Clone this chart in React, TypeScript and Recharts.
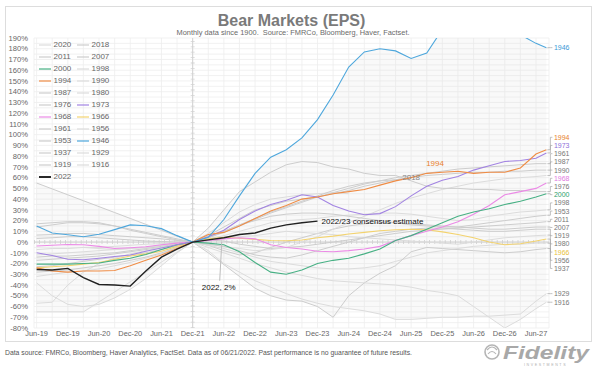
import React from 'react';
import {
  ComposedChart,
  Line,
  Area,
  XAxis,
  YAxis,
  CartesianGrid,
  ReferenceLine,
  ReferenceDot,
} from 'recharts';

const FONT = '"Liberation Sans", Arial, Helvetica, sans-serif';

// months relative to Dec-21 (0)
const months = [-30, -27, -24, -21, -18, -15, -12, -9, -6, -3, 0, 3, 6, 9, 12, 15, 18, 21, 24, 27, 30, 33, 36, 39, 42, 45, 48, 51, 54, 57, 60, 63, 66, 68];
const gridMonths = [-30, -27, -24, -21, -18, -15, -12, -9, -6, -3, 0, 3, 6, 9, 12, 15, 18, 21, 24, 27, 30, 33, 36, 39, 42, 45, 48, 51, 54, 57, 60, 63, 66];
const labeledMonths = [-30, -24, -18, -12, -6, 0, 6, 12, 18, 24, 30, 36, 42, 48, 54, 60, 66];
const monthLabels = ['Jun-19', 'Dec-19', 'Jun-20', 'Dec-20', 'Jun-21', 'Dec-21', 'Jun-22', 'Dec-22', 'Jun-23', 'Dec-23', 'Jun-24', 'Dec-24', 'Jun-25', 'Dec-25', 'Jun-26', 'Dec-26', 'Jun-27'];
const pctTicks = [-80, -75, -70, -65, -60, -55, -50, -45, -40, -35, -30, -25, -20, -15, -10, -5, 0, 5, 10, 15, 20, 25, 30, 35, 40, 45, 50, 55, 60, 65, 70, 75, 80, 85, 90, 95, 100, 105, 110, 115, 120, 125, 130, 135, 140, 145, 150, 155, 160, 165, 170, 175, 180, 185, 190];

const N = null;
const v1946 = [15, 8.5, 6.8, 5, 7.3, 11.6, 16, 15.2, 12.5, 6, 0, 4.5, 21, 43, 64, 79, 86, 97, 114, 137, 163, 177, 180, 178, 171, 176, 198, 215, 225, 222, 210, 193, 185, 181];
const v1973 = [-10, -12.5, -16, -16.5, -15, -13.5, -12, -8.5, -5.5, -2.5, 0, 5, 11, 21, 29, 35, 39, 44, 42, 34, 29, 25.5, 26.5, 33, 43, 52, 57.5, 61, 67, 71, 75, 76, 78, 83];
const v1994 = [-24, -27, -28, -27, -27, -26.5, -22, -17, -12, -6, 0, 7, 9, 15, 22, 29, 34, 40, 42, 45, 47, 49, 53, 57, 60, 64, 65, 66, 64, 65, 65, 69, 82, 86];
const v2000 = [-20.5, -20.5, -20.5, -20, -19.5, -17, -15, -11.5, -7, -2.5, 0, -1, -2.5, -9, -19, -28, -30, -26, -20, -17, -15, -11, -6.5, 1.5, 6, 12, 18, 24, 28, 31, 35, 38, 42, 45];
const v1968 = [-3.7, -3, -2.3, -2.5, -4, -6, -5.3, -4.4, -2.5, -1, 0, 1.5, 3, 4, 3, -2.5, -5, -6.5, -8.5, -9, -8, -6.5, -4, 1.5, 6, 10, 14, 19, 26, 34, 44, 47, 50, 55];
const v1966 = [-24, -23, -22, -20.5, -19, -16, -13, -11, -8.5, -4, 0, 3, 4.5, 3.5, 2.5, 1.5, 1.2, 2, 4, 5.5, 7.5, 9, 10.5, 11.5, 12, 11.5, 9.5, 7, 4, 0, -2.5, -1.5, 1, 2.8];
const v2022 = [-25.5, -26, -24.5, -33, -39.5, -40, -41, -27, -14, -6.5, 0, 2, 4, 7, 8.5, 13, 16, 18, 19.5, N, N, N, N, N, N, N, N, N, N, N, N, N, N, N];
const v1961 = [6.5, 7, 8, 8, 7, 6, 5, 4, 3, 1.5, 0, 4, 9, 15, 21, 27, 32, 37, 42, 46, 50, 54, 57, 60, 62, 64, 66, 68, 69, 70, 71, 72, 73, 73];
const v1987 = [17, 18, 19, 19, 18, 15, 11, 8, 5, 2, 0, 6, 14, 22, 30, 34, 38, 40, 42, 45, 48, 52, 55, 58, 60, 62, 63, 64, 65, 65, 66, 66, 67, 67];
const v1976 = [3.4, 4, 5, 5, 4, 3, 2, 1, 0.5, 0, 0, 13, 30, 47, 56, 65, 72, 75, 74, 70, 68, 64, 62, 62, 57, 52, 50, 50, 49, 49, 48, 48, 47, 47];
const v2018 = [14, 16, 18, 18, 17, 15, 12, 9, 6, 3, 0, 5, 10, 16, 22, 28, 33, 38, 43, 48, 52, 55, 57, 58, 60, N, N, N, N, N, N, N, N, N];
const v2020 = [N, N, N, -5, -6, -7, -6, -5, -3, -1, 0, 8, 18, 28, 35, 40, 42, 44, 45, 46, 45, N, N, N, N, N, N, N, N, N, N, N, N, N];
const v1990 = [-7, -6, -6, -5, -5, -4, -3, -2, -1.5, -0.5, 0, -2, -4, -6, -8, -7, -5, 0, 5, 12, 18, 24, 30, 36, 41, 45, 49, 52, 55, 57, 59, 60, 61, 62];
const v1998 = [-12, -11, -10, -9, -8, -7, -6, -5, -3, -1.5, 0, 3, 6, 10, 14, 18, 20, 21, 22, 24, 25, 26, 27, 27, 26, 24, 22, 20, 21, 24, 26, 28, 29, 30];
const v1953 = [-14, -13, -13, -12, -11, -10, -8, -6, -4, -2, 0, 4, 10, 16, 20, 24, 26, 27, 27, 26, 24, 22, 20, 18, 16, 15, 14, 14, 16, 18, 20, 22, 24, 25];
const v2011 = [-17, -16, -15, -14, -13, -11, -9, -7, -5, -2.5, 0, 2, 1, -2, -4, -6, -5, -4, -2, 0, 2, 4, 6, 8, 10, 11, 12, 13, 14, 15, 16, 17, 18, 19];
const v2007 = [-23, -22, -20, -18, -16, -14, -12, -10, -7, -3.5, 0, -3, -8, -12, -10, -5, 0, 4, 8, 12, 15, 17, 18, 18, 17, 16, 15, 14, 13, 12, 12, 13, 14, 14];
const v1919 = [-28, -27, -26, -24, -22, -20, -17, -14, -10, -5, 0, -2, -4, -8, -12, -14, -15, -12, -8, -4, 0, 4, 8, 10, 12, 13, 13, 12, 11, 10, 10, 11, 12, 12];
const v1980 = [-32, -30, -28, -27, -25, -22, -19, -15, -11, -5, 0, 2, 4, 5, 6, 8, 10, 9, 8, 7, 5, 4, 3, 2, 1, 0, -1, -2, 0, 2, 4, 5, 6, 6.5];
const v1937 = [55, 49.5, 44, 38.5, 33, 27.5, 22, 16.5, 11, 5.5, 0, -10, -21, -32, -43, -50, -54, -55, -60, -70, -50, -38, -29, -22, -9, -5, -6, -7, -8, -9, -10, -9, -7, -6];
const v1956 = [-38, -50, -58, -60, -58, -52, -44, -34, -22, -10, 0, -3, -6, -10, -14, -18, -20, -22, -24, -25, -25, -24, -22, -18, -14, -10, -8, -6, -4, -3, -2, -2, -1, -1];
const v1929 = [-57, -56, -40, -28, -20, -15, -11, -8, -5, -2.5, 0, -8, -20, -28, -36, -42, -48, -53, -57, -60, -62, -64, -67, -72, -72, -71, -70, -70, -69, -69, -68, -67, -55, -48];
const v1916 = [-65, -65, -65, -65, -55.7, -46.4, -37, -28, -18.6, -9.3, 0, -5, -10, -15, -20, -24, -28, -31, -34, -36, -37, -38, -39, -40, -42, -45, -47, -50, -60, -70, -80, -72, -62, -56];

const GRAY = '#cdcdcd';
const GRAY_L = '#dcdcdc';

type Series = {
  name: string;
  values: (number | null)[];
  color: string;
  labelColor: string;
  width: number;
  end: boolean;
};

// legend order (row-major, two columns)
const SERIES: Series[] = [
  { name: '2020', values: v2020, color: GRAY_L, labelColor: '#777', width: 1, end: false },
  { name: '2018', values: v2018, color: GRAY, labelColor: '#888', width: 1, end: false },
  { name: '2011', values: v2011, color: GRAY, labelColor: '#777', width: 1, end: true },
  { name: '2007', values: v2007, color: GRAY, labelColor: '#777', width: 1, end: true },
  { name: '2000', values: v2000, color: '#47b084', labelColor: '#2f9e6c', width: 1.1, end: true },
  { name: '1998', values: v1998, color: GRAY_L, labelColor: '#777', width: 1, end: true },
  { name: '1994', values: v1994, color: '#ef8c45', labelColor: '#e8812e', width: 1.1, end: true },
  { name: '1990', values: v1990, color: GRAY_L, labelColor: '#777', width: 1, end: true },
  { name: '1987', values: v1987, color: GRAY, labelColor: '#777', width: 1, end: true },
  { name: '1980', values: v1980, color: GRAY_L, labelColor: '#777', width: 1, end: true },
  { name: '1976', values: v1976, color: GRAY, labelColor: '#777', width: 1, end: true },
  { name: '1973', values: v1973, color: '#a283e2', labelColor: '#8e6fd9', width: 1.1, end: true },
  { name: '1968', values: v1968, color: '#eb8ae6', labelColor: '#e07ae0', width: 1.1, end: true },
  { name: '1966', values: v1966, color: '#f3d36f', labelColor: '#e8bf3c', width: 1.1, end: true },
  { name: '1961', values: v1961, color: GRAY, labelColor: '#777', width: 1, end: true },
  { name: '1956', values: v1956, color: GRAY_L, labelColor: '#777', width: 1, end: true },
  { name: '1953', values: v1953, color: GRAY, labelColor: '#777', width: 1, end: true },
  { name: '1946', values: v1946, color: '#4ea7dc', labelColor: '#3a98d6', width: 1.1, end: true },
  { name: '1937', values: v1937, color: GRAY, labelColor: '#777', width: 1, end: true },
  { name: '1929', values: v1929, color: GRAY_L, labelColor: '#777', width: 1, end: true },
  { name: '1919', values: v1919, color: GRAY, labelColor: '#777', width: 1, end: true },
  { name: '1916', values: v1916, color: GRAY_L, labelColor: '#777', width: 1, end: true },
  { name: '2022', values: v2022, color: '#222222', labelColor: '#111', width: 1.4, end: false },
];

const COLORED = ['1966', '1968', '2000', '1973', '1994', '1946', '2022'];
const DRAW_ORDER = [
  ...SERIES.filter((s) => !COLORED.includes(s.name)),
  ...COLORED.map((n) => SERIES.find((s) => s.name === n) as Series),
];

const keyOf = (s: Series) => 's' + s.name;

const rows = months.map((m, i) => {
  const row: Record<string, any> = { m };
  const vals: number[] = [];
  SERIES.forEach((s) => {
    row[keyOf(s)] = s.values[i];
    if (s.values[i] != null) vals.push(s.values[i] as number);
  });
  row.band = [Math.min(...vals), Math.max(...vals)];
  return row;
});

const lastIndex = (s: Series) => {
  for (let i = s.values.length - 1; i >= 0; i--) if (s.values[i] != null) return i;
  return -1;
};

// chart geometry
const CW = 600;
const CH = 345;
const M_TOP = 38;
const X_AXIS_H = 17;
const PLOT_H = CH - M_TOP - X_AXIS_H;
const Y_MIN = -80;
const Y_MAX = 190;
const pctToPx = (v: number) => M_TOP + ((Y_MAX - v) * PLOT_H) / (Y_MAX - Y_MIN);

// de-overlap right-hand labels (balanced relaxation)
const endShift: Record<string, number> = {};
(() => {
  const GAP = 8.2;
  const items = SERIES.filter((s) => s.end)
    .map((s) => ({ name: s.name, y: pctToPx(s.values[lastIndex(s)] as number) }))
    .sort((a, b) => a.y - b.y);
  const pos = items.map((it) => it.y);
  for (let iter = 0; iter < 600; iter++) {
    for (let k = 1; k < pos.length; k++) {
      const d = pos[k] - pos[k - 1];
      if (d < GAP) {
        const push = (GAP - d) / 2;
        pos[k - 1] -= push;
        pos[k] += push;
      }
    }
  }
  items.forEach((it, k) => {
    endShift[it.name] = pos[k] - it.y;
  });
})();

function endLabel(name: string, color: string, shift: number) {
  return (props: any) => {
    const vb = props.viewBox || {};
    const x = vb.x + (vb.width || 0) / 2;
    const y = vb.y + (vb.height || 0) / 2;
    if (!isFinite(x) || !isFinite(y)) return null;
    const ly = y + shift;
    return (
      <g>
        <polyline
          points={`${x + 1},${y} ${x + 4},${y} ${x + 4},${ly} ${x + 6},${ly}`}
          fill="none"
          stroke="#a8a8a8"
          strokeWidth={0.7}
        />
        <text x={x + 7.5} y={ly} dy="0.35em" fontSize={7} fill={color} fontFamily={FONT}>
          {name}
        </text>
      </g>
    );
  };
}

function textLabel(text: string, color: string, anchor: 'start' | 'middle', dx: number) {
  return (props: any) => {
    const vb = props.viewBox || {};
    const x = vb.x + (vb.width || 0) / 2;
    const y = vb.y + (vb.height || 0) / 2;
    if (!isFinite(x) || !isFinite(y)) return null;
    return (
      <text x={x + dx} y={y} dy="0.35em" fontSize={8} fill={color} textAnchor={anchor} fontFamily={FONT}>
        {text}
      </text>
    );
  };
}

// annotation anchors (data coordinates)
const note1994 = { m: 46.6, v: 73.8, text: '1994' };
const note2022 = { m: 5, v: -42, text: '2022, 2%' };
const note2022Leader = [{ x: 5.6, y: 0 }, { x: 5.2, y: -36 }];

const xFmt = (v: number) => {
  const i = labeledMonths.indexOf(v);
  return i >= 0 ? monthLabels[i] : '';
};
const yFmt = (v: number) => (v % 10 === 0 ? `${v}%` : '');

function LegendBox() {
  return (
    <div
      style={{
        position: 'absolute',
        left: 39,
        top: 39,
        display: 'grid',
        gridTemplateColumns: '38px 38px',
        gridAutoRows: '12px',
        fontFamily: FONT,
        fontSize: 8,
        color: '#666',
      }}
    >
      {SERIES.map((s) => (
        <div key={s.name} style={{ display: 'flex', alignItems: 'center', height: 12 }}>
          <svg width={12} height={4} style={{ marginRight: 2.5 }}>
            <line x1={0} y1={2} x2={12} y2={2} stroke={s.name === '2022' ? '#111' : s.color} strokeWidth={s.name === '2022' ? 1.8 : 1.2} />
          </svg>
          <span style={{ lineHeight: '12px' }}>{s.name}</span>
        </div>
      ))}
    </div>
  );
}

export default function App() {
  return (
    <div style={{ position: 'absolute', left: 0, top: 0, width: 600, height: 371, background: '#fff', overflow: 'hidden' }}>
      <svg width={600} height={371} style={{ position: 'absolute', left: 0, top: 0 }}>
        <rect x={5.5} y={6.5} width={586} height={335} fill="none" stroke="#dddddd" />
        <text x={291.5} y={26} textAnchor="middle" fontSize={16} fontWeight="bold" fill="#7a7a7a" fontFamily={FONT}>
          Bear Markets (EPS)
        </text>
        <text
          x={176.5}
          y={35}
          fontSize={8}
          fill="#6a6a6a"
          fontFamily={FONT}
          textLength={233}
          lengthAdjust="spacingAndGlyphs"
          style={{ whiteSpace: 'pre' }}
        >
          {'Monthly data since 1900.  Source: FMRCo, Bloomberg, Haver, Factset.'}
        </text>
        <text x={5} y={355} fontSize={8} fill="#555" fontFamily={FONT} textLength={407} lengthAdjust="spacingAndGlyphs">
          Data source: FMRCo, Bloomberg, Haver Analytics, FactSet. Data as of 06/21/2022. Past performance is no guarantee of future results.
        </text>
        <g>
          <circle cx={492} cy={352} r={7} fill="none" stroke="#b5b5b5" strokeWidth={1.6} />
          <path d="M487,350 Q492,344 497,350 M488,354 Q492,349 496,354" fill="none" stroke="#b5b5b5" strokeWidth={1.2} />
          <text x={503} y={359} fontSize={19} fontWeight="bold" fontStyle="italic" fill="#a8a8a8" fontFamily={FONT} textLength={86} lengthAdjust="spacingAndGlyphs">
            Fidelity
          </text>
          <text x={524} y={366} fontSize={3.6} fill="#b0b0b0" fontFamily={FONT} letterSpacing={1.6}>
            INVESTMENTS
          </text>
        </g>
      </svg>
      <div style={{ position: 'absolute', left: 0, top: 0 }}>
        <ComposedChart width={CW} height={CH} data={rows} margin={{ top: M_TOP, right: 51, bottom: 0, left: 0 }}>
          <CartesianGrid stroke="#eeeeee" strokeWidth={0.8} />
          <XAxis
            dataKey="m"
            type="number"
            domain={[-30.5, 68.5]}
            allowDataOverflow
            ticks={gridMonths}
            interval={0}
            tickFormatter={xFmt}
            height={X_AXIS_H}
            axisLine={false}
            tickLine={false}
            tickSize={0}
            tickMargin={3}
            tick={{ fontSize: 7.4, fill: '#666', fontFamily: FONT }}
          />
          <YAxis
            type="number"
            domain={[Y_MIN, Y_MAX]}
            allowDataOverflow
            ticks={pctTicks}
            interval={0}
            tickFormatter={yFmt}
            width={34}
            axisLine={false}
            tickLine={false}
            tickSize={0}
            tickMargin={6}
            tick={{ fontSize: 7.6, fill: '#666', fontFamily: FONT }}
          />
          <Area dataKey="band" stroke="none" fill="#d8d8d8" fillOpacity={0.16} isAnimationActive={false} activeDot={false} />
          <ReferenceLine y={0} stroke="#cfcfcf" strokeWidth={1} />
          <ReferenceLine y={0} stroke="#cfcfcf" strokeWidth={4} strokeDasharray="0.8 4.4" />
          <ReferenceLine x={0} stroke="#d2d2d2" strokeWidth={1} />
          <ReferenceLine x={0} stroke="#d2d2d2" strokeWidth={4} strokeDasharray="0.8 4.6" />
          {DRAW_ORDER.map((s) => (
            <Line
              key={s.name}
              dataKey={keyOf(s)}
              type="linear"
              stroke={s.color}
              strokeWidth={s.width}
              dot={false}
              activeDot={false}
              connectNulls={false}
              isAnimationActive={false}
            />
          ))}
          <ReferenceLine segment={note2022Leader} stroke="#bdbdbd" strokeWidth={1} />
          {SERIES.filter((s) => s.end).map((s) => {
            const li = lastIndex(s);
            return (
              <ReferenceDot
                key={'end' + s.name}
                x={months[li]}
                y={s.values[li] as number}
                r={0}
                fill="none"
                stroke="none"
                label={endLabel(s.name, s.labelColor, endShift[s.name] || 0)}
              />
            );
          })}
          <ReferenceDot
            x={months[lastIndex(SERIES[1])]}
            y={v2018[lastIndex(SERIES[1])] as number}
            r={0}
            fill="none"
            stroke="none"
            label={textLabel('2018', '#888', 'middle', 0)}
          />
          <ReferenceDot
            x={months[lastIndex(SERIES[22])]}
            y={v2022[lastIndex(SERIES[22])] as number}
            r={0}
            fill="none"
            stroke="none"
            label={textLabel('2022/23 consensus estimate', '#111', 'start', 4)}
          />
          <ReferenceDot x={note1994.m} y={note1994.v} r={0} fill="none" stroke="none" label={textLabel(note1994.text, '#e8812e', 'middle', 0)} />
          <ReferenceDot x={note2022.m} y={note2022.v} r={0} fill="none" stroke="none" label={textLabel(note2022.text, '#111', 'middle', 0)} />
        </ComposedChart>
      </div>
      <LegendBox />
    </div>
  );
}
